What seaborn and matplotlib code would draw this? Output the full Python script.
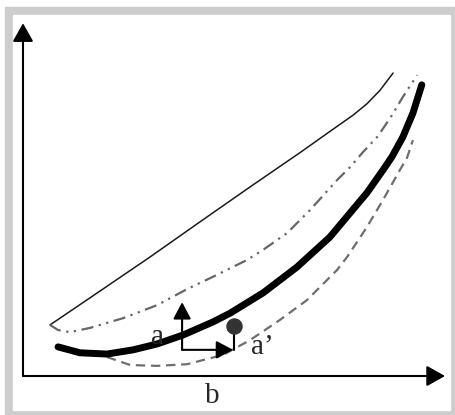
import matplotlib
matplotlib.use("Agg")
import matplotlib.pyplot as plt
from matplotlib.patches import Rectangle
import seaborn as sns

# curves (units: axis length b = 10)
thin_x = [0.64, 1.82, 3.01, 4.19, 5.38, 6.56, 7.35, 7.82, 8.15, 8.46, 8.77]
thin_y = [1.21, 2.01, 2.82, 3.65, 4.48, 5.29, 5.85, 6.18, 6.45, 6.77, 7.18]

dashdot_x = [0.64, 0.83, 1.11, 1.59, 2.37, 3.18, 3.89, 4.50, 5.31, 5.69,
             6.26, 6.80, 7.44, 7.75, 8.06, 8.39, 8.70, 9.00, 9.34]
dashdot_y = [1.21, 1.09, 1.04, 1.14, 1.37, 1.68, 2.06, 2.35, 2.75, 2.99,
             3.39, 3.93, 4.64, 4.95, 5.31, 5.66, 6.11, 6.61, 7.13]

thick_x = [0.83, 1.35, 1.99, 2.61, 3.18, 3.79, 4.50, 4.91, 5.69, 6.49,
           7.27, 8.15, 8.53, 8.74, 9.00, 9.24, 9.45]
thick_y = [0.69, 0.55, 0.52, 0.62, 0.76, 0.97, 1.28, 1.49, 1.97, 2.58,
           3.29, 4.34, 4.88, 5.19, 5.66, 6.23, 6.90]

dashed_x = [1.99, 2.54, 3.18, 3.89, 4.74, 5.38, 6.09, 6.73, 7.44, 7.68,
            8.15, 8.53, 8.93, 9.10, 9.24]
dashed_y = [0.45, 0.26, 0.24, 0.28, 0.50, 0.85, 1.33, 1.80, 2.51, 2.82,
            3.53, 4.17, 4.88, 5.17, 5.59]

point_x = [5.00]
point_y = [1.18]

origin_a = (3.77, 0.62)
a_up = 1.75
a_right = 4.98
axis_x_end = 10.0
axis_y_end = 8.36

sns.set_style("white")
plt.rcParams['font.family'] = ['Liberation Serif', 'DejaVu Serif']

fig = plt.figure(figsize=(4.55, 4.15), dpi=100)
# grey frame round the picture
fig.patches.append(Rectangle((5 / 455, 0), 450 / 455, 408 / 415,
                             transform=fig.transFigure, color='#cdcdcd', zorder=-3))
fig.patches.append(Rectangle((13 / 455, 5 / 415), 437 / 455, 395 / 415,
                             transform=fig.transFigure, color='white', zorder=-2))

ax = fig.add_axes([0, 0, 1, 1])
ax.set_facecolor('none')
ax.set_xlim(-23 / 42.2, 432 / 42.2)
ax.set_ylim(-39 / 42.2, 376 / 42.2)
ax.axis('off')

sns.lineplot(x=thin_x, y=thin_y, sort=False, estimator=None, color='#1a1a1a', lw=1.1,
             solid_joinstyle='round', ax=ax)
sns.lineplot(x=dashdot_x, y=dashdot_y, sort=False, estimator=None, color='#666666', lw=1.6,
             linestyle=(0, (5.5, 2.5, 1, 2.5, 1, 2.5)), ax=ax)
sns.lineplot(x=dashed_x, y=dashed_y, sort=False, estimator=None, color='#6e6e6e', lw=1.6,
             linestyle=(0, (4.2, 2.6)), ax=ax)
sns.lineplot(x=thick_x, y=thick_y, sort=False, estimator=None, color='black', lw=5,
             solid_joinstyle='round', ax=ax)

# axes with arrow heads
big = dict(arrowstyle='-|>,head_length=0.8,head_width=0.45', mutation_scale=14,
           lw=1.5, color='black', shrinkA=0, shrinkB=0)
ax.annotate('', xy=(axis_x_end, 0), xytext=(0, 0), arrowprops=big)
ax.annotate('', xy=(0, axis_y_end), xytext=(0, 0), arrowprops=big)

# small arrows at a
small = dict(arrowstyle='-|>,head_length=0.85,head_width=0.45', mutation_scale=12,
             lw=1.5, color='black', shrinkA=0, shrinkB=0)
ax.annotate('', xy=(origin_a[0], a_up), xytext=origin_a, arrowprops=small)
ax.annotate('', xy=(a_right, origin_a[1]), xytext=origin_a, arrowprops=small)

# point a' with its stick
ax.plot([point_x[0], point_x[0]], [origin_a[1], point_y[0]], color='black', lw=1.5)
sns.scatterplot(x=point_x, y=point_y, s=120, color='#333333', edgecolor='#333333', ax=ax, zorder=5)

ax.text(3.18, 0.92, 'a', fontsize=21, ha='center', va='center')
ax.text(5.66, 0.69, 'a\u2019', fontsize=21, ha='center', va='center')
ax.text(4.48, -0.47, 'b', fontsize=21, ha='center', va='center')

fig.savefig('out.png', dpi=100)
